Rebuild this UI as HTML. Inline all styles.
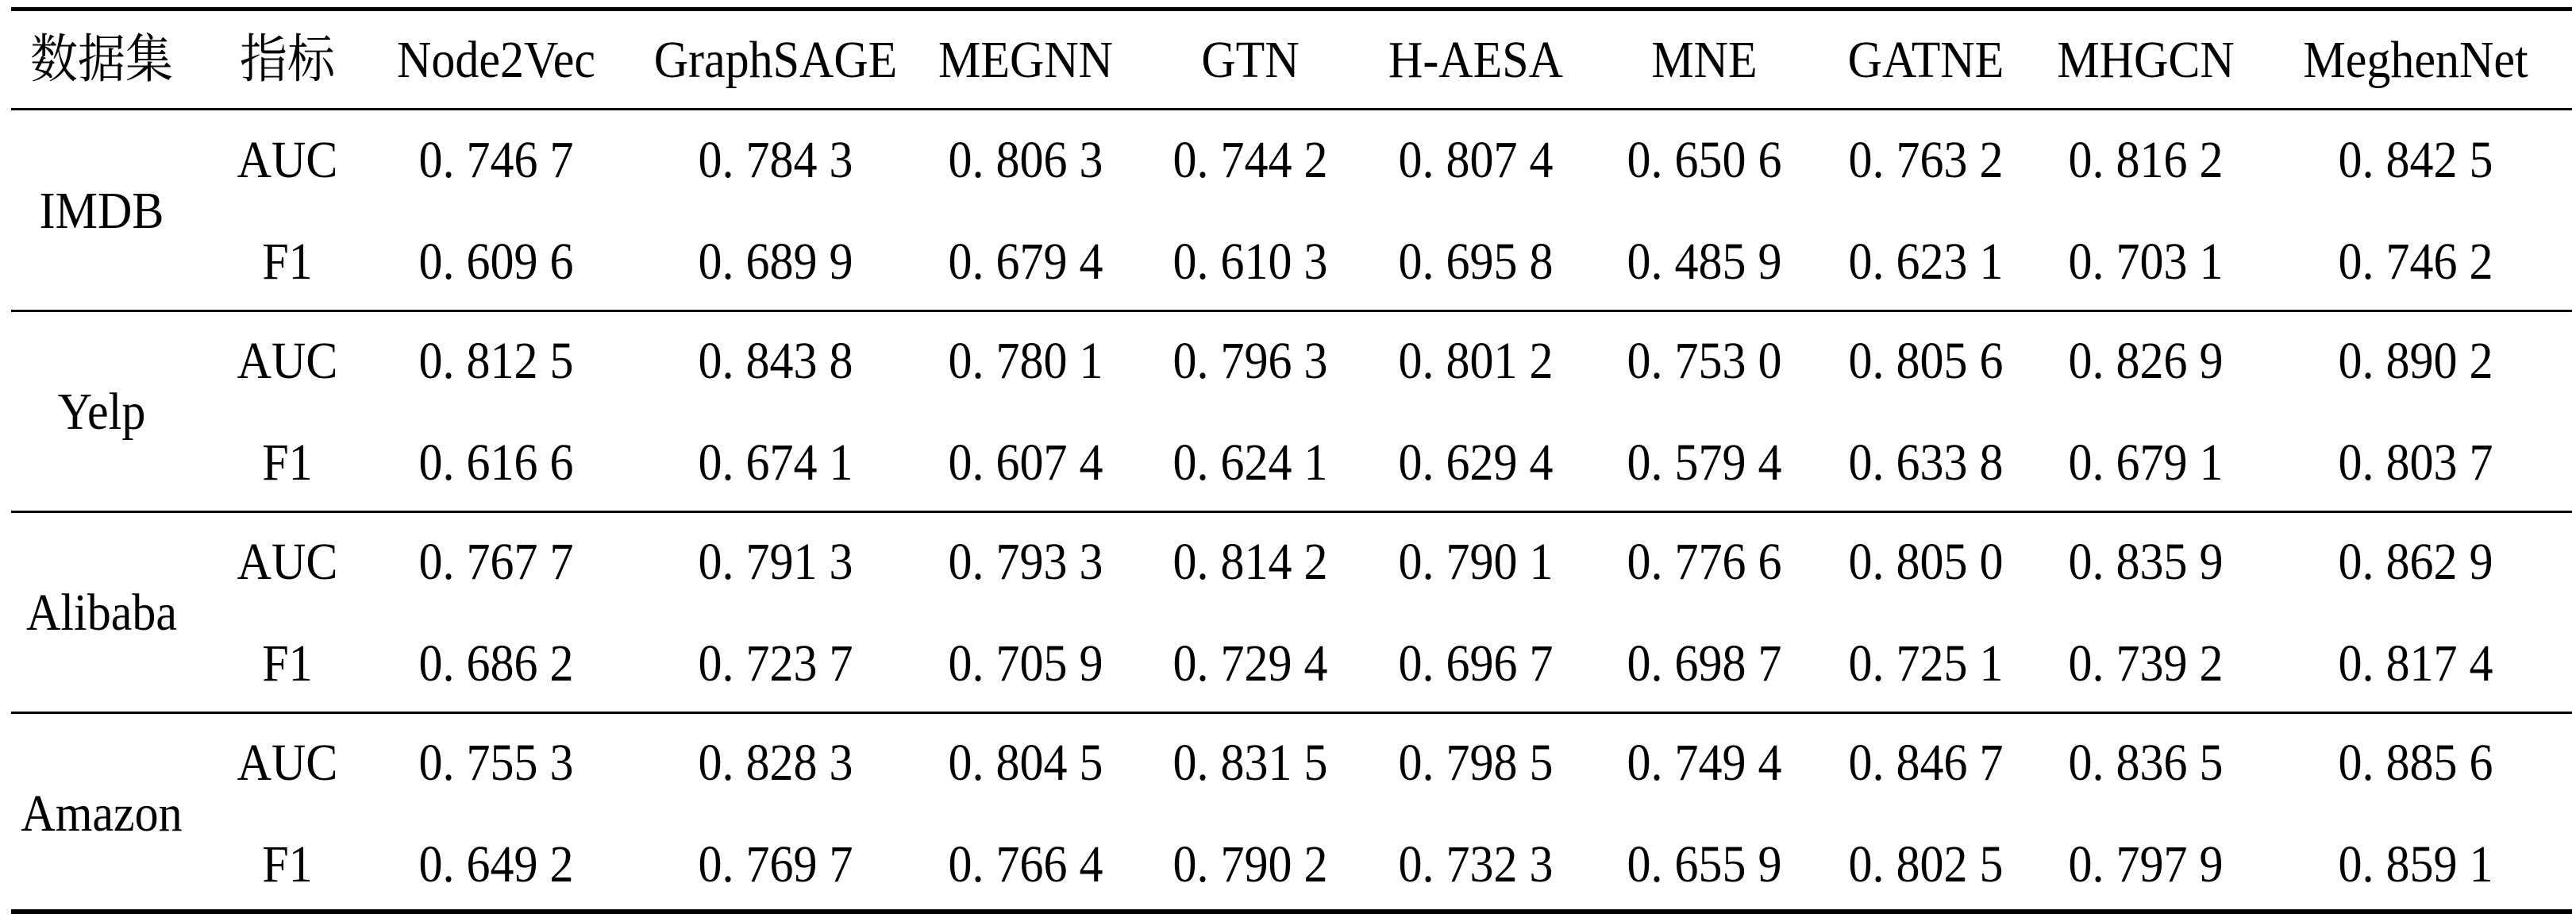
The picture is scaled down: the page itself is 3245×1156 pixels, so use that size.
<!DOCTYPE html>
<html><head><meta charset="utf-8">
<style>
html,body{margin:0;padding:0;background:#fff;}
#tbl{position:relative;width:3245px;height:1156px;overflow:hidden;font-family:"Liberation Serif","Noto Serif CJK SC",serif;color:#000;}
.t{position:absolute;font-size:60px;line-height:1;white-space:pre;transform:translate(-50%,-50%) scaleY(1.1);}
.cjk{font-family:"Liberation Serif","Noto Serif CJK SC","Noto Sans CJK SC",serif;}
.ln{position:absolute;left:14px;width:3226px;background:#000;}
</style></head>
<body>
<div id="tbl"></div>
<script>
const headers = ["数据集","指标","Node2Vec","GraphSAGE","MEGNN","GTN","H-AESA","MNE","GATNE","MHGCN","MeghenNet"];
const datasets = ["IMDB","Yelp","Alibaba","Amazon"];
const metrics = ["AUC","F1"];
const imdbVals = [["0. 746 7","0. 784 3","0. 806 3","0. 744 2","0. 807 4","0. 650 6","0. 763 2","0. 816 2","0. 842 5"],
                  ["0. 609 6","0. 689 9","0. 679 4","0. 610 3","0. 695 8","0. 485 9","0. 623 1","0. 703 1","0. 746 2"]];
const yelpVals = [["0. 812 5","0. 843 8","0. 780 1","0. 796 3","0. 801 2","0. 753 0","0. 805 6","0. 826 9","0. 890 2"],
                  ["0. 616 6","0. 674 1","0. 607 4","0. 624 1","0. 629 4","0. 579 4","0. 633 8","0. 679 1","0. 803 7"]];
const alibabaVals = [["0. 767 7","0. 791 3","0. 793 3","0. 814 2","0. 790 1","0. 776 6","0. 805 0","0. 835 9","0. 862 9"],
                     ["0. 686 2","0. 723 7","0. 705 9","0. 729 4","0. 696 7","0. 698 7","0. 725 1","0. 739 2","0. 817 4"]];
const amazonVals = [["0. 755 3","0. 828 3","0. 804 5","0. 831 5","0. 798 5","0. 749 4","0. 846 7","0. 836 5","0. 885 6"],
                    ["0. 649 2","0. 769 7","0. 766 4","0. 790 2","0. 732 3","0. 655 9","0. 802 5","0. 797 9","0. 859 1"]];
const allVals = [imdbVals, yelpVals, alibabaVals, amazonVals];

const colX = [128,362,625,977,1292,1575,1859,2147,2426,2703,3043];
const headerY = 75, sectionTop0 = 138, sectionH = 253, rowOff = [63,191];
const tbl = document.getElementById('tbl');

function line(y,h,name){
  const d=document.createElement('div');d.className='ln';
  d.style.top=y+'px';d.style.height=h+'px';
  
  
  tbl.appendChild(d);
}
function txt(s,x,y,name,cls){
  const d=document.createElement('div');d.className='t'+(cls?' '+cls:'');
  d.textContent=s;d.style.left=x+'px';d.style.top=y+'px';
  
  
  tbl.appendChild(d);
}
line(9,5,'top-rule');
line(sectionTop0-2,3,'header-rule');
headers.forEach((h,i)=>txt(h,colX[i],headerY,'header-'+h.toLowerCase(),i<2?'cjk':''));
datasets.forEach((ds,di)=>{
  const top=sectionTop0+di*sectionH;
  txt(ds,colX[0],top+(rowOff[0]+rowOff[1])/2,'dataset-'+ds.toLowerCase());
  metrics.forEach((m,mi)=>{
    const y=top+rowOff[mi];
    txt(m,colX[1],y,'metric-'+ds.toLowerCase()+'-'+m.toLowerCase());
    allVals[di][mi].forEach((v,ci)=>txt(v,colX[ci+2],y,'cell-'+ds.toLowerCase()+'-'+m.toLowerCase()+'-'+headers[ci+2].toLowerCase()));
  });
  if(di<datasets.length-1) line(top+sectionH-1,3,'section-rule-'+ds.toLowerCase());
});
line(1145,6,'bottom-rule');
</script>
</body></html>
